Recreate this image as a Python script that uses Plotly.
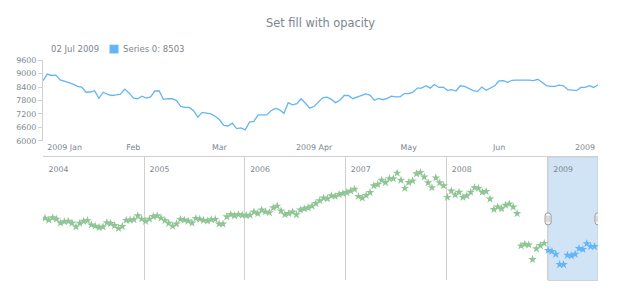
import pandas as pd
import plotly.graph_objects as go

# ---------------- data ----------------
title_text = "Set fill with opacity"
series_name = "Series 0"

main_dates = pd.bdate_range("2009-01-02", "2009-07-02")
main_values = [
    8690, 8980, 8920, 8935, 8720, 8675, 8600, 8530, 8430, 8400,
    8170, 8180, 8240, 7895, 8170, 8070, 8025, 8050, 8080, 8310,
    8140, 7920, 7880, 7995, 7905, 7965, 8225, 8225, 7850, 7880,
    7880, 7810, 7540, 7490, 7490, 7345, 7055, 7270, 7230, 7200,
    7095, 6950, 6690, 6660, 6790, 6545, 6575, 6490, 6835, 6865,
    7155, 7170, 7155, 7345, 7445, 7385, 7225, 7705, 7605, 7660,
    7880, 7675, 7460, 7530, 7705, 7920, 7950, 7850, 7705, 7810,
    8025, 8025, 7880, 7950, 7995, 8095, 8040, 7810, 7895, 7835,
    7895, 7995, 7965, 7965, 8110, 8110, 8170, 8355, 8355, 8460,
    8355, 8515, 8385, 8400, 8255, 8285, 8225, 8460, 8430, 8325,
    8240, 8210, 8400, 8255, 8355, 8460, 8675, 8690, 8615, 8705,
    8710, 8720, 8720, 8710, 8690, 8750, 8615, 8470, 8430, 8430,
    8485, 8460, 8285, 8255, 8240, 8385, 8385, 8460, 8385, 8503,
]

scroller_all_dates = pd.bdate_range("2004-01-02", "2009-07-02")
scroller_dates = scroller_all_dates[5::10]
scroller_values = [
    10930, 10730, 10970, 10830, 10430, 10570, 10600, 10430, 10030, 10400,
    10600, 10670, 10230, 10100, 9970, 10030, 10470, 10370, 10170, 9870,
    10070, 10700, 10730, 10770, 11170, 10830, 10600, 10830, 11100, 11170,
    10930, 10670, 10400, 10100, 10330, 10800, 10730, 10630, 10430, 10900,
    10830, 10700, 10630, 10770, 10800, 10330, 10330, 11070, 11300, 11170,
    11300, 11230, 11200, 11230, 11570, 11400, 11770, 11570, 11500, 12000,
    12170, 11670, 11300, 11400, 11570, 11270, 11770, 11900, 12000, 12170,
    12430, 12730, 13000, 12930, 13230, 13170, 13370, 13470, 13570, 13730,
    13900, 13170, 13000, 13270, 13570, 14270, 14400, 14830, 14600, 15000,
    15000, 15570, 14830, 14000, 14600, 14770, 15500, 15630, 15170, 14570,
    14070, 15070, 14570, 14270, 13070, 13730, 13330, 13600, 13070, 13230,
    13600, 14070, 14000, 13600, 13670, 12900, 11830, 12070, 11900, 12270,
    12400, 12070, 11400, 8070, 8230, 8170, 6670, 7770, 8100, 8330,
    7600, 7500, 7200, 6150, 6150, 7100, 7050, 7200, 7800, 7700,
    8300, 8000, 8000,
]

y_ticks = [6000, 6600, 7200, 7800, 8400, 9000, 9600]
x_tick_dates = ["2009-01-09", "2009-02-02", "2009-03-02", "2009-04-01",
                "2009-05-01", "2009-06-01", "2009-06-29"]
x_tick_labels = ["2009 Jan", "Feb", "Mar", "2009 Apr", "May", "Jun", "2009"]
year_dates = ["2004-01-02", "2005-01-03", "2006-01-02", "2007-01-01",
              "2008-01-01", "2009-01-01"]
year_labels = ["2004", "2005", "2006", "2007", "2008", "2009"]

# ---------------- styling ----------------
W, H = 620, 300
def px(p):
    return p / W
def py(p):
    return 1 - p / H

TEXT = "#7c868e"
LINE_BLUE = "#64b5f6"
STAR_GREEN = "#8fc594"
GRID = "#d0d0d0"
FONT = "DejaVu Sans"

sel_start = pd.Timestamp("2009-01-01")
mask = [d >= sel_start for d in scroller_dates]
green_x = [d for d, m in zip(scroller_dates, mask) if not m]
green_y = [v for v, m in zip(scroller_values, mask) if not m]
blue_x = [d for d, m in zip(scroller_dates, mask) if m]
blue_y = [v for v, m in zip(scroller_values, mask) if m]

fig = go.Figure()
fig.add_trace(go.Scatter(
    x=main_dates, y=main_values, mode="lines",
    line=dict(color=LINE_BLUE, width=1.3), xaxis="x", yaxis="y",
    hoverinfo="skip"))
fig.add_trace(go.Scatter(
    x=green_x, y=green_y, mode="markers",
    marker=dict(symbol="star", size=6.5, color=STAR_GREEN, line=dict(width=0)),
    xaxis="x2", yaxis="y2", hoverinfo="skip"))
fig.add_trace(go.Scatter(
    x=blue_x, y=blue_y, mode="markers",
    marker=dict(symbol="star", size=6.5, color=LINE_BLUE, line=dict(width=0)),
    xaxis="x2", yaxis="y2", hoverinfo="skip"))

xdom = [px(43), px(598)]
rb = [dict(bounds=["sat", "mon"])]

fig.update_layout(
    width=W, height=H,
    margin=dict(l=0, r=0, t=0, b=0),
    paper_bgcolor="white", plot_bgcolor="white",
    showlegend=False,
    font=dict(family=FONT, color=TEXT, size=8),
    xaxis=dict(
        domain=xdom, anchor="y", type="date",
        range=[str(main_dates[0].date()), str(main_dates[-1].date())],
        rangebreaks=rb,
        tickmode="array", tickvals=x_tick_dates, ticktext=x_tick_labels,
        showgrid=False, showline=False, zeroline=False, ticks="",
        tickfont=dict(size=7.9, color=TEXT, family=FONT),
    ),
    yaxis=dict(
        domain=[py(141), py(58)], anchor="x",
        range=[6000, 9600],
        tickmode="array", tickvals=y_ticks,
        showgrid=False, zeroline=False,
        showline=True, linecolor=GRID, linewidth=1,
        ticks="outside", ticklen=4, tickcolor=GRID,
        tickfont=dict(size=7.9, color=TEXT, family=FONT),
    ),
    xaxis2=dict(
        domain=xdom, anchor="y2", type="date", side="top",
        range=[str(scroller_all_dates[0].date()), str(scroller_all_dates[-1].date())],
        rangebreaks=rb,
        tickmode="array", tickvals=year_dates, ticktext=year_labels,
        ticklabelposition="inside right", ticks="",
        ticklabelshift=5, ticklabelstandoff=5,
        showgrid=True, gridcolor=GRID, gridwidth=1,
        showline=True, linecolor=GRID, linewidth=1, zeroline=False,
        tickfont=dict(size=7.8, color=TEXT, family=FONT),
    ),
    yaxis2=dict(
        domain=[py(285), py(158)], anchor="x2",
        range=[4500, 17200], visible=False,
    ),
)

# selection area of the scroller
fig.add_shape(
    type="rect", xref="x2", yref="y2 domain",
    x0=str(main_dates[0].date()), x1=str(main_dates[-1].date()), y0=0, y1=1,
    fillcolor="rgba(25,118,210,0.2)", line=dict(color="#c9d3dc", width=1),
    layer="below")

# handles
handle_path = ("M-3,-3.5 L-3,3.5 Q-3,6 0,6 Q3,6 3,3.5 L3,-3.5 "
               "Q3,-6 0,-6 Q-3,-6 -3,-3.5 Z")
for d in (main_dates[0], main_dates[-1]):
    fig.add_shape(
        type="path", xref="x2", yref="y2 domain",
        xsizemode="pixel", ysizemode="pixel",
        xanchor=str(d.date()), yanchor=0.5,
        path=handle_path, fillcolor="#f1f1f1",
        line=dict(color="#9a9a9a", width=1), layer="above")
    fig.add_shape(
        type="path", xref="x2", yref="y2 domain",
        xsizemode="pixel", ysizemode="pixel",
        xanchor=str(d.date()), yanchor=0.5,
        path="M-1,-3 L-1,3 M1,-3 L1,3", line=dict(color="#b5b5b5", width=0.8),
        layer="above")

# title
fig.add_annotation(
    text=title_text, xref="paper", yref="paper",
    x=(xdom[0] + xdom[1]) / 2, y=py(20), xanchor="center", yanchor="middle",
    showarrow=False, font=dict(size=11.4, color=TEXT, family=FONT))

# legend
last_date = main_dates[-1]
fig.add_annotation(
    text=last_date.strftime("%d %b %Y"), xref="paper", yref="paper",
    x=px(48.5), y=py(46.5), xanchor="left", yanchor="middle",
    showarrow=False, font=dict(size=8.5, color=TEXT, family=FONT))
fig.add_shape(
    type="rect", xref="paper", yref="paper",
    x0=px(109.5), x1=px(118.5), y0=py(51), y1=py(42),
    fillcolor=LINE_BLUE, line=dict(width=0))
fig.add_annotation(
    text=f"{series_name}: {main_values[-1]}", xref="paper", yref="paper",
    x=px(120.5), y=py(46.5), xanchor="left", yanchor="middle",
    showarrow=False, font=dict(size=8.5, color=TEXT, family=FONT))

fig.write_html("out.html")
